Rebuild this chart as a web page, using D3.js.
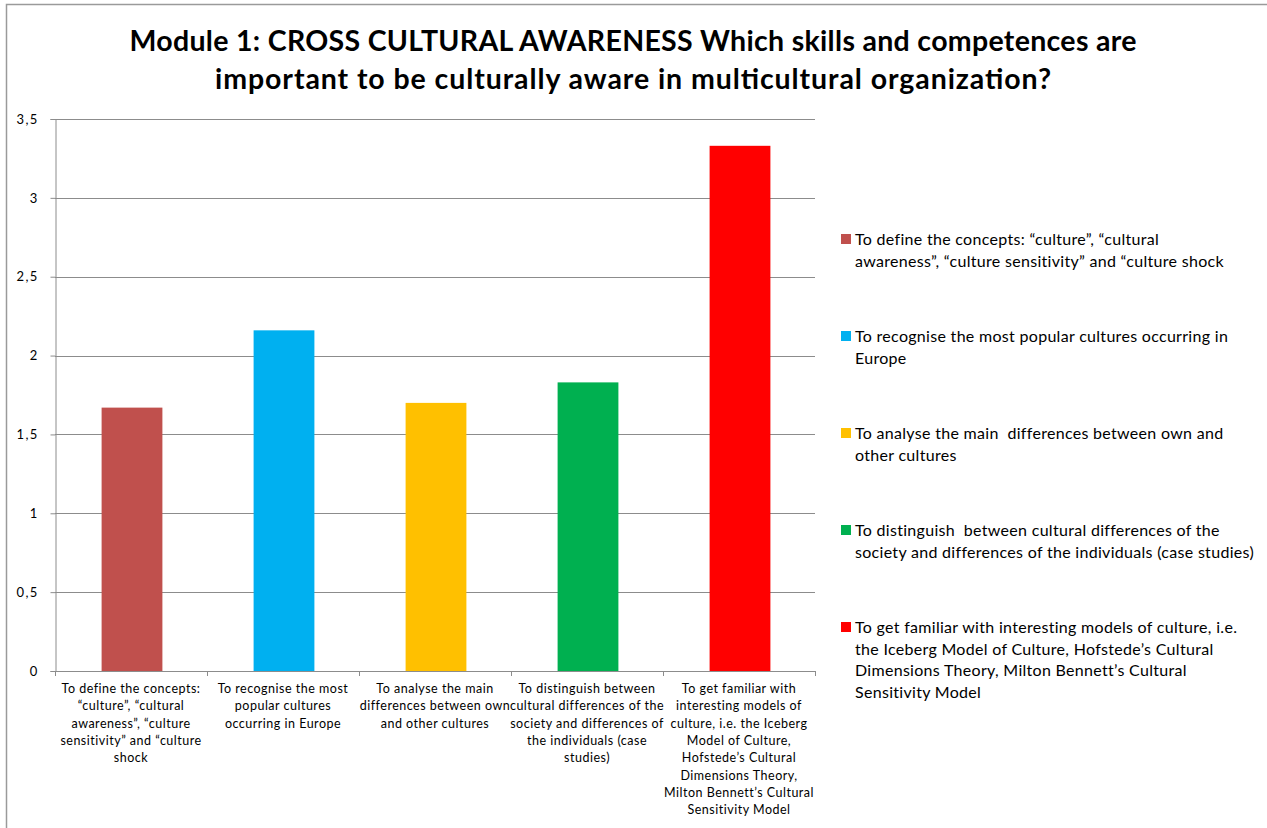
<!DOCTYPE html>
<html>
<head>
<meta charset="utf-8">
<script src="https://cdn.jsdelivr.net/npm/d3@7"></script>
<style>
  html, body { margin: 0; padding: 0; background: #fff; }
  svg { display: block; }
  text { font-family: Lato, "Open Sans", sans-serif; fill: #000; }
</style>
</head>
<body>
<svg id="chart" width="1267" height="828"></svg>
<script>
// Chart content
const titleLines = [
  "Module 1: CROSS CULTURAL AWARENESS Which skills and competences are",
  "important to be culturally aware in multicultural organization?"
];
const titleWidths = [1007, 836];

const categories = ["define", "recognise", "analyse", "distinguish", "familiar"];

const values = [1.67, 2.16, 1.70, 1.83, 3.33];

const colors = ["#C0504D", "#00B0F0", "#FFC000", "#00B050", "#FF0000"];

const axisLabelLines = [
  ["To define the concepts:", "“culture”, “cultural", "awareness”, “culture", "sensitivity” and “culture", "shock"],
  ["To recognise the most", "popular cultures", "occurring in Europe"],
  ["To analyse the main", "differences between own", "and other cultures"],
  ["To distinguish between", "cultural differences of the", "society and differences of", "the individuals (case", "studies)"],
  ["To get familiar with", "interesting models of", "culture, i.e. the Iceberg", "Model of Culture,", "Hofstede’s Cultural", "Dimensions Theory,", "Milton Bennett’s Cultural", "Sensitivity Model"]
];

const legendLines = [
  ["To define the concepts: “culture”, “cultural", "awareness”, “culture sensitivity” and “culture shock"],
  ["To recognise the most popular cultures occurring in", "Europe"],
  ["To analyse the main  differences between own and", "other cultures"],
  ["To distinguish  between cultural differences of the", "society and differences of the individuals (case studies)"],
  ["To get familiar with interesting models of culture, i.e.", "the Iceberg Model of Culture, Hofstede’s Cultural", "Dimensions Theory, Milton Bennett’s Cultural", "Sensitivity Model"]
];

const yTicks = [0, 0.5, 1, 1.5, 2, 2.5, 3, 3.5];
const yTickLabels = ["0", "0,5", "1", "1,5", "2", "2,5", "3", "3,5"];

// Layout
const svg = d3.select("#chart");
const plot = { left: 55, right: 815, top: 119, bottom: 671 };

// Chart frame
svg.append("rect")
  .attr("x", 6.5).attr("y", 4.5)
  .attr("width", 1300).attr("height", 900)
  .attr("fill", "#fff")
  .attr("stroke", "#9a9a9a")
  .attr("stroke-width", 1.5);

// Title
svg.append("g").selectAll("text")
  .data(titleLines)
  .join("text")
  .attr("x", (d, i) => 633 - titleWidths[i] / 2)
  .attr("y", (d, i) => 51 + i * 38)
  .attr("font-size", 28.5)
  .attr("font-weight", "bold")
  .attr("textLength", (d, i) => titleWidths[i])
  .attr("lengthAdjust", "spacing")
  .text(d => d);

// Scales
const x = d3.scaleBand().domain(categories).range([plot.left, plot.right]).padding(0);
const y = d3.scaleLinear().domain([0, 3.5]).range([plot.bottom, plot.top]);

// Gridlines
svg.append("g")
  .selectAll("line")
  .data(yTicks.filter(t => t > 0))
  .join("line")
  .attr("x1", plot.left).attr("x2", plot.right)
  .attr("y1", d => Math.round(y(d)) + 0.5).attr("y2", d => Math.round(y(d)) + 0.5)
  .attr("stroke", "#8c8c8c")
  .attr("stroke-width", 1);

// Y axis
const yAxis = d3.axisLeft(y)
  .tickValues(yTicks)
  .tickFormat((d, i) => yTickLabels[i])
  .tickSize(5)
  .tickPadding(12);
const yg = svg.append("g")
  .attr("transform", `translate(${plot.left + 0.5},0)`)
  .call(yAxis);
yg.select(".domain").attr("stroke", "#8c8c8c");
yg.selectAll(".tick line").attr("stroke", "#8c8c8c");
yg.selectAll(".tick text")
  .attr("font-size", 13)
  .attr("letter-spacing", 1.3)
  .attr("font-family", "Lato, 'Open Sans', sans-serif")
  .attr("fill", "#222");

// Bars
const barFrac = 0.4;
svg.append("g")
  .selectAll("rect")
  .data(categories)
  .join("rect")
  .attr("x", d => x(d) + x.bandwidth() * (1 - barFrac) / 2 + 1)
  .attr("width", x.bandwidth() * barFrac)
  .attr("y", (d, i) => y(values[i]))
  .attr("height", (d, i) => y(0) - y(values[i]))
  .attr("fill", (d, i) => colors[i]);

// X axis baseline and category boundary ticks
const xg = svg.append("g");
xg.append("line")
  .attr("x1", plot.left).attr("x2", plot.right)
  .attr("y1", plot.bottom + 0.5).attr("y2", plot.bottom + 0.5)
  .attr("stroke", "#8c8c8c");
const bounds = categories.map(c => x(c)).concat([x(categories[categories.length - 1]) + x.bandwidth()]);
xg.selectAll("line.b")
  .data(bounds)
  .join("line")
  .attr("class", "b")
  .attr("x1", d => Math.round(d) + 0.5).attr("x2", d => Math.round(d) + 0.5)
  .attr("y1", plot.bottom).attr("y2", plot.bottom + 5)
  .attr("stroke", "#8c8c8c");

// Category labels
const catG = svg.append("g")
  .selectAll("text")
  .data(categories)
  .join("text")
  .attr("text-anchor", "middle")
  .attr("font-size", 12.5)
  .attr("letter-spacing", 0.5)
  .attr("fill", "#222");
catG.each(function(d, i) {
  const t = d3.select(this);
  const cx = x(d) + x.bandwidth() / 2;
  axisLabelLines[i].forEach((line, j) => {
    t.append("tspan")
      .attr("x", cx)
      .attr("y", 693 + j * 17.3)
      .text(line);
  });
});

// Legend
const legend = svg.append("g")
  .selectAll("g")
  .data(categories)
  .join("g")
  .attr("transform", (d, i) => `translate(841, ${239 + i * 97})`);
legend.append("rect")
  .attr("x", 0).attr("y", -5)
  .attr("width", 10).attr("height", 10)
  .attr("fill", (d, i) => colors[i]);
legend.append("text")
  .attr("font-size", 16)
  .attr("letter-spacing", 0.3)
  .attr("fill", "#222")
  .each(function(d, i) {
    const t = d3.select(this);
    legendLines[i].forEach((line, j) => {
      t.append("tspan")
        .attr("x", 14)
        .attr("y", 6 + j * 21.5)
        .attr("xml:space", "preserve")
        .text(line);
    });
  });
</script>
</body>
</html>
